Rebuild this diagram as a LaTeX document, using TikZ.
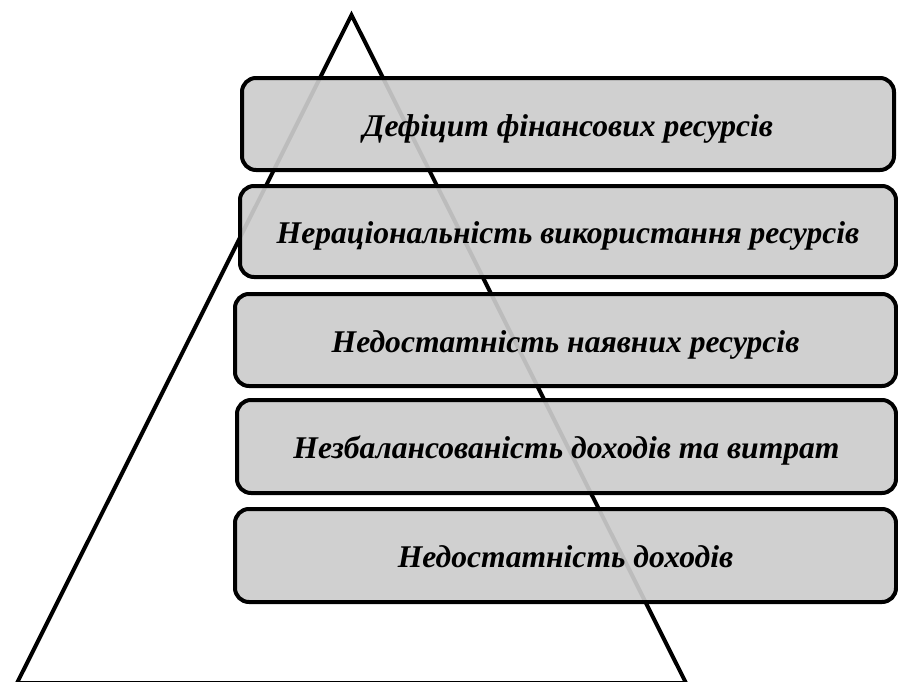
\documentclass[tikz,border=0pt]{standalone}
\usepackage{fontspec}
\setmainfont{Liberation Serif}
\definecolor{boxgray}{RGB}{204,204,204}
\begin{document}
\begin{tikzpicture}[x=1pt,y=-1pt,
  box/.style={draw=black, line width=4pt, rounded corners=14pt, fill=boxgray,
    fill opacity=0.92, text opacity=1, align=center, inner sep=0pt,
    text height=26pt, text depth=2pt,
    font=\bfseries\itshape\fontsize{31.6}{36}\selectfont},
  tri/.style={draw=black, line width=4pt}]
\useasboundingbox (0,0) rectangle (898,681);
\coordinate (apex) at (351.5,15);
\coordinate (bl) at (17,683);
\coordinate (br) at (686,683);
\draw[tri] (apex) -- (bl) -- (br) -- cycle;
\node[box, minimum width=652pt, minimum height=92pt] (b1) at (568,124) {Дефіцит фінансових ресурсів};
\node[box, minimum width=656pt, minimum height=91pt] (b2) at (568,231.5) {Нераціональність використання ресурсів};
\node[box, minimum width=661pt, minimum height=92pt] (b3) at (565.5,340) {Недостатність наявних ресурсів};
\node[box, minimum width=659pt, minimum height=93pt] (b4) at (566.5,446.5) {Незбалансованість доходів та витрат};
\node[box, minimum width=661pt, minimum height=93pt] (b5) at (565.5,555.5) {Недостатність доходів};
\end{tikzpicture}
\end{document}
